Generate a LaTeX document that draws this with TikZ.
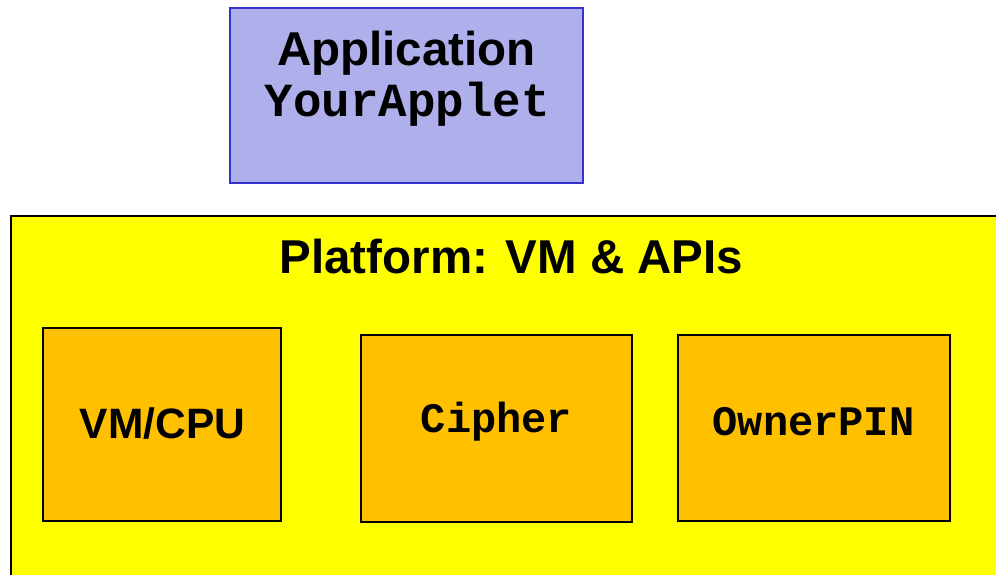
\documentclass[tikz,border=0pt]{standalone}
\usepackage{fontspec}
\setmainfont{Liberation Sans}
\newfontfamily\codefont{Liberation Mono}
\definecolor{appfill}{RGB}{175,175,235}
\definecolor{appline}{RGB}{51,51,204}
\definecolor{platfill}{RGB}{255,255,0}
\definecolor{modfill}{RGB}{255,192,0}
\tikzset{
  appbox/.style={draw=appline, fill=appfill, line width=2pt, rectangle, inner sep=0pt},
  platbox/.style={draw=black, fill=platfill, line width=1.5pt, rectangle, inner sep=0pt},
  modbox/.style={draw=black, fill=modfill, line width=1.5pt, rectangle, inner sep=0pt},
  bigtext/.style={font=\fontsize{47.5}{52}\selectfont\bfseries, inner sep=0pt, anchor=base},
  codetext/.style={font=\fontsize{47.5}{52}\selectfont\codefont\bfseries, inner sep=0pt, anchor=base},
  modcode/.style={font=\fontsize{42}{46}\selectfont\codefont\bfseries, inner sep=0pt},
  modsans/.style={font=\fontsize{42.5}{46}\selectfont\bfseries, inner sep=0pt}
}
\begin{document}
\begin{tikzpicture}[x=1pt, y=-1pt]
  \useasboundingbox (0,0) rectangle (996,575);
  \clip (0,0) rectangle (996,575);
  % application layer
  \node[appbox, minimum width=353pt, minimum height=175pt] (app) at (406.5,95.5) {};
  \node[bigtext] (apptitle) at (406.5,66) {Application};
  \node[codetext] (appname) at (407.5,117) {YourApplet};
  % platform layer (runs past the page edge)
  \node[platbox, minimum width=1000pt, minimum height=380pt, anchor=north west] (plat) at (10,215) {};
  \node[bigtext] (plattitle) at (511.5,273) {Platform: VM \& APIs};
  % platform modules
  \node[modbox, minimum width=238pt, minimum height=193pt] (vm) at (162,424.5) {};
  \node[modsans] (vmtext) at (162.5,424) {VM/CPU};
  \node[modbox, minimum width=271pt, minimum height=187pt] (cipher) at (496.5,428.5) {};
  \node[modcode] (ciphertext) at (496.5,422) {Cipher};
  \node[modbox, minimum width=272pt, minimum height=186pt] (pin) at (814,428) {};
  \node[modcode] (pintext) at (813.5,422) {OwnerPIN};
\end{tikzpicture}
\end{document}
